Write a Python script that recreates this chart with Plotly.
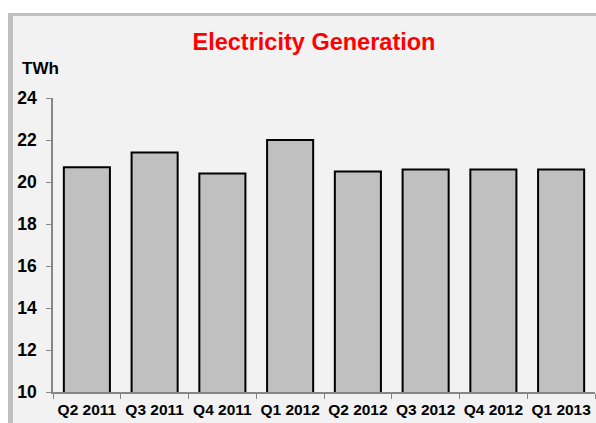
import plotly.graph_objects as go

categories = ["Q2 2011", "Q3 2011", "Q4 2011", "Q1 2012", "Q2 2012", "Q3 2012", "Q4 2012", "Q1 2013"]
values = [20.7, 21.4, 20.4, 22.0, 20.5, 20.6, 20.6, 20.6]
y_ticks = [10, 12, 14, 16, 18, 20, 22, 24]

W, H = 596, 423
ML, MR, MT, MB = 53, 1, 98, 31
pw = W - ML - MR
ph = H - MT - MB

def px_x(p):
    return (p - ML) / pw

def px_y(p):
    return (H - MB - p) / ph

fig = go.Figure()
fig.add_trace(go.Bar(
    x=categories, y=values,
    marker=dict(color="#c0c0c0", line=dict(color="#000000", width=2)),
    width=0.68,
))

shapes = [
    dict(type="rect", xref="paper", yref="paper", layer="below",
         x0=px_x(8), x1=px_x(W + 10), y0=px_y(H + 10), y1=px_y(13),
         fillcolor="#c0c0c0", line=dict(width=0)),
    dict(type="rect", xref="paper", yref="paper", layer="below",
         x0=px_x(13), x1=px_x(W + 10), y0=px_y(H + 10), y1=px_y(16),
         fillcolor="#f2f2f2", line=dict(width=0)),
]

fig.update_layout(
    width=W, height=H,
    margin=dict(l=ML, r=MR, t=MT, b=MB, pad=0, autoexpand=False),
    paper_bgcolor="#ffffff",
    plot_bgcolor="rgba(0,0,0,0)",
    shapes=shapes,
    showlegend=False,
    font=dict(family="Liberation Sans, Arial, sans-serif", color="#000000"),
    title=dict(text="<b>Electricity Generation</b>", x=314 / W, xref="container", xanchor="center",
               y=1 - 42 / H, yref="container", yanchor="middle",
               font=dict(size=23.5, color="#ff0000", family="Liberation Sans, Arial, sans-serif")),
    annotations=[dict(text="<b>TWh</b>", xref="paper", yref="paper",
                      x=px_x(20), y=px_y(68), xanchor="left", yanchor="middle",
                      showarrow=False, font=dict(size=17, color="#000000"))],
    xaxis=dict(
        range=[-0.5, 7.5], showgrid=False, showline=True, linecolor="#868686", linewidth=1.5,
        ticks="outside", tickson="boundaries", ticklen=5, tickcolor="#868686", tickwidth=1,
        tickangle=0, automargin=False, ticklabelstandoff=3,
        tickfont=dict(size=15.5, color="#000000", family="Liberation Sans, Arial, sans-serif"),
        tickprefix="<b>", ticksuffix="</b>", fixedrange=True,
    ),
    yaxis=dict(
        range=[10, 24], tickvals=y_ticks, ticktext=[f"<b>{v}</b>" for v in y_ticks],
        showgrid=False, zeroline=False, showline=True, linecolor="#868686", linewidth=1.5,
        ticks="outside", ticklen=5, tickcolor="#868686", tickwidth=1, automargin=False,
        ticklabelstandoff=6,
        tickfont=dict(size=17.5, color="#000000", family="Liberation Sans, Arial, sans-serif"),
        fixedrange=True,
    ),
)

fig.write_html("out.html")
